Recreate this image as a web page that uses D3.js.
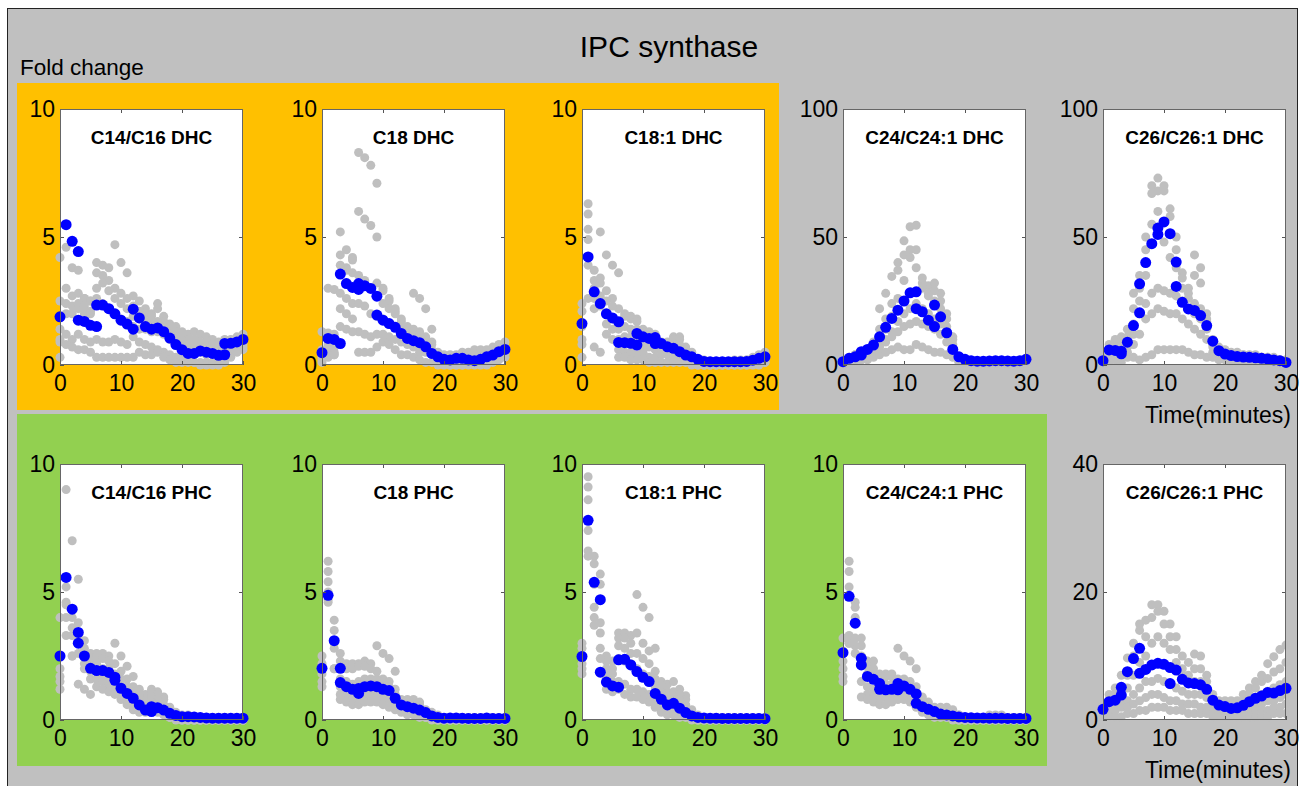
<!DOCTYPE html>
<html>
<head>
<meta charset="utf-8">
<script src="https://cdn.jsdelivr.net/npm/d3@7"></script>
<style>
body { margin: 0; background: #fff; }
svg { display: block; }
text { font-family: "Liberation Sans", Arial, sans-serif; }
</style>
</head>
<body>
<div id="chart"></div>
<script>
// time points (minutes)
const times = [0,1,2,3,4,5,6,7,8,9,10,11,12,13,14,15,16,17,18,19,20,21,22,23,24,25,26,27,28,29,30];
const xTicks = [0, 10, 20, 30];

const titles = ['C14/C16 DHC', 'C18 DHC', 'C18:1 DHC', 'C24/C24:1 DHC', 'C26/C26:1 DHC',
  'C14/C16 PHC', 'C18 PHC', 'C18:1 PHC', 'C24/C24:1 PHC', 'C26/C26:1 PHC'];
const yMaxes = [10, 10, 10, 100, 100, 10, 10, 10, 10, 40];
const yTicks = [[0,5,10],[0,5,10],[0,5,10],[0,50,100],[0,50,100],[0,5,10],[0,5,10],[0,5,10],[0,5,10],[0,20,40]];

// replicate curves (gray), one value per time point
const grayC14DHC = [
  [4.2,4.6,3.8,3.7,2.6,2.5,4.0,3.9,3.8,4.7,4.0,3.6,2.7,2.5,2.2,2.0,2.4,1.9,1.6,1.5,1.3,1.2,1.3,1.2,1.1,1.0,0.9,1.0,1.0,1.1,1.2],
  [2.5,3.0,2.7,2.8,2.6,2.5,3.6,3.5,3.3,3.0,2.8,2.6,2.3,2.1,2.0,1.9,2.2,1.7,1.5,1.3,1.2,1.0,1.0,0.9,0.9,0.8,0.8,0.9,0.9,1.0,1.0],
  [1.4,2.4,2.3,2.2,2.0,2.0,3.0,3.2,2.9,2.6,2.4,2.2,1.9,1.8,1.7,1.6,1.7,1.5,1.2,1.1,1.0,0.8,0.8,0.7,0.7,0.6,0.5,0.7,0.8,0.8,0.9],
  [1.0,2.0,2.0,2.4,2.3,2.1,2.6,2.4,2.2,2.0,1.8,1.7,1.5,1.4,1.4,1.3,1.3,1.2,1.0,0.9,0.8,0.6,0.6,0.5,0.4,0.4,0.4,0.6,0.7,0.7,0.8],
  [0.9,1.2,1.0,1.2,1.0,0.9,1.0,0.9,0.9,1.0,0.9,0.8,1.1,0.9,0.8,0.7,0.6,0.5,0.4,0.3,0.3,0.2,0.1,0.1,0.1,0.1,0.1,0.3,0.5,0.6,0.7],
  [0.3,0.8,0.7,0.6,0.6,0.5,0.3,0.3,0.3,0.3,0.3,0.3,0.3,0.5,0.4,0.4,0.5,0.3,0.2,0.1,0.1,0.1,0.1,0.0,0.0,0.0,0.0,0.1,0.3,0.5,0.6]
];
const grayC18DHC = [
  [0.1,0.5,0.4,5.2,4.5,4.2,8.3,8.1,7.8,7.1,3.0,2.5,2.0,1.8,1.4,2.8,2.6,2.2,1.4,0.5,0.4,0.4,0.4,0.5,0.5,0.6,0.6,0.6,0.7,0.8,0.9],
  [1.3,1.25,1.2,4.3,3.8,4.1,6.0,5.7,5.45,5.0,2.9,2.6,2.2,1.7,1.5,1.4,1.3,1.1,0.9,0.4,0.3,0.3,0.3,0.3,0.4,0.4,0.4,0.4,0.5,0.6,0.7],
  [0.6,3.0,2.95,3.9,3.7,3.6,3.5,3.3,3.0,3.2,2.4,2.2,2.1,1.6,1.4,1.3,1.2,1.0,0.8,0.3,0.2,0.2,0.2,0.2,0.2,0.3,0.3,0.3,0.4,0.5,0.6],
  [0.3,0.8,0.7,2.8,2.6,2.4,2.4,2.3,2.0,1.9,1.8,1.6,1.5,1.3,1.1,1.0,0.9,0.8,0.6,0.2,0.1,0.1,0.1,0.1,0.1,0.2,0.2,0.2,0.3,0.4,0.5],
  [0.4,0.5,0.5,2.2,2.0,1.8,1.3,1.2,1.1,1.2,1.2,1.1,1.0,0.9,0.8,0.7,0.5,0.5,0.4,0.1,0.1,0.0,0.0,0.0,0.1,0.1,0.1,0.1,0.2,0.3,0.4],
  [0.2,0.3,0.4,1.5,1.4,1.3,0.5,0.5,0.5,0.7,0.9,0.8,0.6,0.4,0.4,0.3,0.2,0.1,0.1,0.0,0.0,0.0,0.0,0.0,0.0,0.0,0.0,0.0,0.1,0.2,0.3]
];
const grayC181DHC = [
  [2.4,6.3,3.7,5.2,4.3,3.9,3.6,2.0,1.9,1.8,1.4,1.3,1.2,0.9,0.9,1.1,1.1,0.7,0.5,0.2,0.2,0.1,0.1,0.1,0.1,0.2,0.2,0.2,0.3,0.4,0.5],
  [2.1,5.9,3.3,3.4,2.9,2.6,2.2,1.9,1.8,1.7,1.3,1.2,1.0,0.8,0.8,1.0,1.0,0.6,0.4,0.2,0.1,0.1,0.1,0.1,0.1,0.1,0.1,0.2,0.2,0.3,0.4],
  [1.5,5.3,3.0,3.2,2.5,2.3,1.4,1.5,1.4,1.4,1.1,1.0,0.9,0.7,0.7,0.8,0.8,0.5,0.3,0.1,0.1,0.1,0.1,0.1,0.1,0.1,0.1,0.1,0.2,0.2,0.3],
  [1.0,4.9,2.6,2.7,2.0,1.8,1.0,1.1,1.1,1.0,0.8,0.7,0.6,0.6,0.6,0.6,0.5,0.4,0.2,0.1,0.0,0.0,0.0,0.0,0.0,0.1,0.1,0.1,0.1,0.2,0.2],
  [0.8,3.9,2.2,2.3,1.6,1.4,0.6,0.5,0.5,0.4,0.5,0.3,0.3,0.4,0.4,0.3,0.3,0.2,0.1,0.0,0.0,0.0,0.0,0.0,0.0,0.0,0.0,0.0,0.1,0.1,0.1],
  [0.3,2.6,0.7,0.5,1.2,1.0,0.3,0.3,0.2,0.2,0.2,0.1,0.1,0.1,0.1,0.1,0.1,0.1,0.0,0.0,0.0,0.0,0.0,0.0,0.0,0.0,0.0,0.0,0.0,0.0,0.1]
];
const grayC24DHC = [
  [0,2,4,5,6,9,22,28,34.6,40,48.5,54,54.6,32,31,32,28,20,11,3,2,1.5,1.5,1.5,1.5,1.5,1.5,1.5,1.5,1.5,2],
  [1,3,4,5,6,8,14,18,24,37,43,45,45,34,28,29,25,18,10,3,2,1.5,1.5,1.5,1.5,1.5,1.5,1.5,1.5,1.5,2],
  [1,2,3,4,5,7,11,14,19,26,33,42,38,30,27,25,22,15,8,2,1.5,1,1,1,1,1,1,1,1,1,1.5],
  [1,2,3,3,4,5,9,10,13,17,20,22,24,22,20,18,16,12,6,2,1,1,1,1,1,1,1,1,1,1,1],
  [0.5,1,2,2,3,4,7,9,11,13,15,16,17,16,15,14,12,9,5,1.5,1,1,1,1,1,1,1,1,1,1,1],
  [0.5,1,1.5,2,2,3,4,5,6,7,6,6,8,7,6,5,5,4,3,1,1,0.5,0.5,0.5,0.5,0.5,0.5,0.5,0.5,0.5,0.5]
];
const grayC26DHC = [
  [3,8,10,11,14,28,35,50,70,73,70,61,50,36,30,43,38,20,10,7,6,5,5,4,4,4,3,3,3,2,2],
  [2,6,8,9,11,22,30,45,67,68,68,58,45,34,28,35,32,18,9,6,5,4,4,4,3,3,3,3,2,2,2],
  [1,5,7,7,9,16,25,35,55,60,48,42,38,30,26,24,22,17,8,5,4,4,3,3,3,3,3,2,2,2,1],
  [1,4,5,5,7,12,20,24,28,30,29,28,27,25,22,20,18,14,7,4,4,3,3,3,2,2,2,2,2,1,1],
  [0.5,3,4,3,5,8,12,18,20,22,21,20,20,18,16,14,12,10,5,3,3,2,2,2,2,2,2,1,1,1,1],
  [0.5,1,2,1,3,3,2,3,4,6,6,6,6,6,5,4,4,3,3,2,2,1,1,1,1,1,1,1,1,1,0.5]
];
const grayC14PHC = [
  [4.0,9.0,7.0,5.5,3.1,2.6,2.6,2.6,2.5,3.0,2.5,2.1,1.7,1.2,1.0,1.2,1.1,0.9,0.5,0.3,0.2,0.2,0.1,0.1,0.1,0.1,0.1,0.1,0.1,0.1,0.1],
  [2.5,5.2,4.0,3.8,2.8,2.4,2.5,2.4,2.3,2.2,1.9,1.6,1.3,1.0,0.8,1.1,1.0,0.8,0.4,0.2,0.1,0.1,0.1,0.1,0.1,0.1,0.1,0.1,0.1,0.1,0.1],
  [2.0,4.6,3.6,3.3,2.5,2.2,2.2,2.0,2.0,1.8,1.6,1.3,1.0,0.8,0.6,0.9,0.8,0.6,0.3,0.2,0.1,0.1,0.1,0.0,0.0,0.0,0.0,0.0,0.0,0.0,0.0],
  [1.7,4.5,3.3,3.0,2.2,1.9,1.9,1.7,1.6,1.5,1.3,1.0,0.8,0.6,0.5,0.7,0.6,0.4,0.2,0.1,0.1,0.0,0.0,0.0,0.0,0.0,0.0,0.0,0.0,0.0,0.0],
  [1.5,4.0,2.5,2.6,2.0,1.6,1.6,1.5,1.3,1.2,1.0,0.8,0.6,0.5,0.4,0.5,0.5,0.3,0.1,0.1,0.0,0.0,0.0,0.0,0.0,0.0,0.0,0.0,0.0,0.0,0.0],
  [1.2,3.3,2.5,1.4,1.2,1.0,1.3,1.2,1.1,1.0,0.8,0.6,0.4,0.3,0.3,0.3,0.3,0.2,0.1,0.0,0.0,0.0,0.0,0.0,0.0,0.0,0.0,0.0,0.0,0.0,0.0]
];
const grayC18PHC = [
  [2.5,6.2,3.9,2.6,2.2,2.2,2.2,2.3,2.2,2.9,2.6,2.4,1.9,0.8,0.8,0.8,0.7,0.4,0.3,0.2,0.1,0.1,0.1,0.1,0.1,0.1,0.1,0.1,0.1,0.1,0.1],
  [2.2,5.8,3.5,2.3,2.0,2.0,2.1,2.1,2.0,1.9,1.6,1.5,1.2,0.7,0.6,0.6,0.6,0.3,0.2,0.1,0.1,0.1,0.1,0.1,0.1,0.1,0.0,0.0,0.0,0.0,0.0],
  [1.8,5.4,3.0,1.6,1.5,1.4,1.5,1.6,1.6,1.6,1.4,1.3,1.0,0.6,0.5,0.5,0.5,0.3,0.2,0.1,0.1,0.0,0.0,0.0,0.0,0.0,0.0,0.0,0.0,0.0,0.0],
  [1.3,5.0,2.0,1.3,1.2,1.1,1.2,1.2,1.3,1.2,1.1,1.0,0.8,0.5,0.4,0.4,0.4,0.2,0.1,0.1,0.0,0.0,0.0,0.0,0.0,0.0,0.0,0.0,0.0,0.0,0.0],
  [2.0,4.7,2.8,1.0,0.9,0.8,0.9,0.9,1.0,0.9,0.8,0.8,0.6,0.4,0.3,0.3,0.2,0.1,0.1,0.0,0.0,0.0,0.0,0.0,0.0,0.0,0.0,0.0,0.0,0.0,0.0],
  [1.5,4.6,2.0,0.8,0.7,0.6,0.6,0.7,0.7,0.7,0.6,0.5,0.4,0.3,0.2,0.2,0.1,0.1,0.0,0.0,0.0,0.0,0.0,0.0,0.0,0.0,0.0,0.0,0.0,0.0,0.0]
];
const grayC181PHC = [
  [3.0,9.5,6.4,5.7,2.5,2.3,3.4,3.4,3.3,4.9,4.4,4.0,2.8,1.5,1.4,1.5,1.2,0.95,0.4,0.2,0.1,0.1,0.1,0.1,0.1,0.1,0.1,0.1,0.1,0.1,0.1],
  [2.8,9.1,6.1,5.3,2.3,2.0,3.2,3.2,3.0,3.4,3.0,2.7,1.9,1.3,1.1,1.1,1.0,0.8,0.3,0.1,0.1,0.1,0.1,0.1,0.1,0.1,0.0,0.0,0.0,0.0,0.0],
  [2.5,8.6,5.3,3.8,2.0,1.8,2.9,2.8,2.6,2.6,2.4,2.2,1.6,1.1,0.9,0.9,0.8,0.6,0.2,0.1,0.1,0.0,0.0,0.0,0.0,0.0,0.0,0.0,0.0,0.0,0.0],
  [2.2,7.4,4.4,3.4,1.7,1.5,2.4,2.3,2.2,2.0,1.8,1.7,1.3,0.9,0.7,0.7,0.6,0.4,0.1,0.1,0.0,0.0,0.0,0.0,0.0,0.0,0.0,0.0,0.0,0.0,0.0],
  [2.0,6.6,4.0,2.8,1.5,1.3,1.5,1.4,1.2,1.2,1.1,1.0,0.8,0.6,0.4,0.4,0.3,0.2,0.1,0.0,0.0,0.0,0.0,0.0,0.0,0.0,0.0,0.0,0.0,0.0,0.0],
  [1.8,6.4,3.7,2.4,1.2,1.1,1.2,1.0,0.9,0.9,0.8,0.7,0.5,0.3,0.2,0.2,0.1,0.1,0.0,0.0,0.0,0.0,0.0,0.0,0.0,0.0,0.0,0.0,0.0,0.0,0.0]
];
const grayC24PHC = [
  [3.2,6.2,4.6,3.2,2.3,2.3,1.8,1.8,1.8,2.8,2.5,2.3,2.0,0.9,0.7,0.5,0.5,0.5,0.4,0.2,0.1,0.1,0.1,0.1,0.2,0.2,0.2,0.1,0.1,0.1,0.1],
  [2.7,5.8,4.4,2.9,2.1,2.0,1.7,1.7,1.7,1.6,1.6,1.5,1.3,0.8,0.6,0.4,0.4,0.4,0.3,0.2,0.1,0.1,0.1,0.1,0.1,0.1,0.1,0.1,0.1,0.1,0.1],
  [2.3,5.2,4.0,2.5,1.8,1.7,1.5,1.4,1.4,1.4,1.4,1.3,1.1,0.7,0.5,0.3,0.3,0.3,0.2,0.1,0.1,0.1,0.0,0.0,0.0,0.0,0.0,0.0,0.0,0.0,0.0],
  [1.7,3.3,3.2,2.2,1.3,1.2,1.1,1.1,1.1,1.1,1.1,1.0,0.8,0.5,0.4,0.3,0.2,0.2,0.1,0.1,0.0,0.0,0.0,0.0,0.0,0.0,0.0,0.0,0.0,0.0,0.0],
  [1.5,3.0,2.9,1.5,1.0,0.9,0.8,0.9,0.9,0.9,0.9,0.8,0.6,0.4,0.3,0.2,0.2,0.1,0.1,0.0,0.0,0.0,0.0,0.0,0.0,0.0,0.0,0.0,0.0,0.0,0.0],
  [2.0,3.0,2.6,0.9,0.8,0.7,0.6,0.6,0.7,0.8,0.8,0.7,0.5,0.3,0.2,0.1,0.1,0.1,0.0,0.0,0.0,0.0,0.0,0.0,0.0,0.0,0.0,0.0,0.0,0.0,0.0]
];
const grayC26PHC = [
  [2,4,5,7,9.7,12,15,15.6,18,18,17,15,13,10,9,10.3,10,7,4,3,3,3,3,4,5,6,7,8.8,9.9,11,11.7],
  [1.5,3,4,5,7,10,14,13,16,17,15,13,11,8,7,8,8,6,3.5,2.5,2.5,2.5,2.5,3,4,5,6,6.5,7.5,8,9],
  [1,2.5,3,4,5,7,9,10,12,13,12,11,9,7,6,6,6,5,3,2,2,2,2,2.5,3,3.5,4,4.5,5,5.5,6],
  [1,2,2.5,3,3,4,5,6,6,6.5,6,5.5,5,4.5,4,4,4,3.5,2.5,1.5,1.5,1.5,1.5,2,2,2.5,2.5,3,3,3.5,4],
  [0.5,1,1.5,2,2,2.5,3,3.5,4,4,3.5,3,3,2.5,2.5,2.5,2,2,1.5,1,1,1,1,1,1,1.5,1.5,1.5,2,2,2.5],
  [0.5,0.5,0.5,0.5,1,1,1.5,1.5,2,2,2,1.5,1.5,1.5,1,1,1,1,0.5,0.5,0.5,0.5,0.5,0.5,0.5,0.5,0.5,0.5,1,1,1]
];

// mean curves (blue), [time, fold change]
const blueC14DHC = [[0,1.88],[1,5.48],[2,4.83],[3,4.43],[3,1.75],[4,1.7],[5,1.55],[6,1.5],[6,2.34],[7,2.34],[8,2.2],[9,2.0],[10,1.75],[11,1.6],[12,1.4],[12,2.18],[13,1.84],[14,1.5],[15,1.4],[16,1.45],[17,1.3],[18,1.05],[19,0.8],[20,0.6],[21,0.45],[22,0.45],[23,0.55],[24,0.5],[25,0.45],[26,0.38],[27,0.4],[27,0.84],[28,0.85],[29,0.9],[30,1.0]];
const blueC18DHC = [[0,0.48],[1,1.04],[2,1.0],[3,0.84],[3,3.55],[4,3.18],[5,3.03],[6,3.18],[6,2.95],[7,3.1],[8,2.99],[9,2.69],[9,1.95],[10,1.75],[11,1.62],[12,1.47],[13,1.23],[14,1.04],[15,0.95],[16,0.87],[17,0.71],[18,0.45],[19,0.32],[20,0.22],[21,0.2],[22,0.26],[23,0.26],[24,0.2],[25,0.17],[26,0.22],[27,0.32],[28,0.39],[29,0.52],[30,0.61]];
const blueC181DHC = [[0,1.62],[1,4.22],[2,2.86],[3,2.4],[4,2.0],[5,1.84],[6,1.69],[6,0.88],[7,0.87],[8,0.85],[9,0.78],[9,1.23],[10,1.1],[11,1.04],[12,1.07],[12,0.84],[13,0.84],[14,0.71],[15,0.65],[16,0.52],[17,0.39],[18,0.32],[19,0.22],[20,0.14],[21,0.13],[22,0.13],[23,0.13],[24,0.13],[25,0.13],[26,0.13],[27,0.14],[28,0.19],[29,0.26],[30,0.32]];
const blueC24DHC = [[0,1.3],[1,2.6],[2,3.2],[3,3.9],[3,5.2],[4,6.1],[5,7.8],[6,11],[7,14.7],[8,18.2],[9,21.4],[10,25],[11,28.2],[12,28.6],[12,22],[13,20.8],[14,17.5],[15,15],[15,23.4],[16,18.8],[17,12.6],[18,6.1],[19,3.2],[20,2.2],[21,1.7],[22,1.5],[23,1.5],[24,1.6],[25,1.7],[26,1.7],[27,1.6],[28,1.5],[29,1.7],[30,2.2]];
const blueC26DHC = [[0,1.7],[1,5.9],[2,5.7],[3,5.4],[3,4.4],[4,8.9],[5,15.4],[6,20.4],[6,31.7],[7,40],[8,47.4],[9,51],[9,53.5],[10,55.9],[11,51.3],[12,40.2],[12,30.7],[13,24.5],[14,21.9],[15,21.3],[16,19.3],[17,15.4],[18,9.3],[19,5.6],[20,4.3],[21,3.7],[22,3.3],[23,3.1],[24,3.0],[25,2.8],[26,2.6],[27,2.3],[28,2.0],[29,1.7],[30,1.0]];
const blueC14PHC = [[0,2.5],[1,5.57],[2,4.33],[3,3.42],[3,3.0],[4,2.5],[5,2.02],[6,1.93],[7,1.93],[8,1.86],[9,1.67],[9,1.55],[10,1.24],[11,1.04],[12,0.85],[13,0.59],[14,0.39],[15,0.33],[15,0.52],[16,0.48],[17,0.39],[18,0.26],[19,0.18],[20,0.13],[21,0.13],[22,0.12],[23,0.1],[24,0.08],[25,0.07],[26,0.07],[27,0.07],[28,0.07],[29,0.07],[30,0.07]];
const blueC18PHC = [[0,2.02],[1,4.87],[2,3.1],[3,2.02],[3,1.46],[4,1.3],[5,1.2],[6,1.04],[6,1.23],[7,1.3],[8,1.33],[9,1.3],[10,1.2],[11,1.15],[12,0.85],[13,0.59],[14,0.52],[15,0.46],[16,0.39],[17,0.29],[18,0.16],[19,0.1],[20,0.07],[21,0.08],[22,0.08],[23,0.07],[24,0.06],[25,0.06],[26,0.06],[27,0.08],[28,0.06],[29,0.06],[30,0.06]];
const blueC181PHC = [[0,2.48],[1,7.8],[2,5.38],[3,4.7],[3,1.87],[4,1.48],[5,1.33],[6,1.28],[6,2.35],[7,2.37],[8,2.15],[9,1.89],[10,1.67],[11,1.5],[12,1.04],[13,0.81],[14,0.59],[15,0.65],[16,0.46],[17,0.29],[18,0.16],[19,0.1],[20,0.08],[21,0.07],[22,0.07],[23,0.06],[24,0.06],[25,0.06],[26,0.06],[27,0.06],[28,0.06],[29,0.06],[30,0.05]];
const blueC24PHC = [[0,2.63],[1,4.83],[2,3.78],[3,2.41],[3,2.15],[4,1.7],[5,1.59],[6,1.43],[6,1.2],[7,1.18],[8,1.2],[9,1.43],[9,1.18],[10,1.33],[11,1.2],[12,1.02],[12,0.65],[13,0.52],[14,0.42],[15,0.33],[16,0.23],[17,0.2],[18,0.16],[19,0.12],[20,0.1],[21,0.09],[22,0.08],[23,0.08],[24,0.07],[25,0.07],[26,0.07],[27,0.06],[28,0.06],[29,0.06],[30,0.06]];
const blueC26PHC = [[0,1.67],[1,2.86],[2,3.1],[3,3.9],[3,5.1],[4,7.55],[5,9.6],[6,11.2],[6,7.3],[7,7.9],[8,8.6],[9,8.85],[10,8.7],[11,8.2],[11,5.7],[12,7.8],[13,6.35],[14,5.8],[15,5.7],[16,5.5],[17,4.8],[18,3.1],[19,2.34],[20,2.1],[21,1.8],[22,1.9],[23,2.3],[24,2.86],[25,3.4],[26,3.75],[27,4.3],[28,4.2],[29,4.6],[30,4.95]];

const grays = [grayC14DHC, grayC18DHC, grayC181DHC, grayC24DHC, grayC26DHC,
  grayC14PHC, grayC18PHC, grayC181PHC, grayC24PHC, grayC26PHC];
const blues = [blueC14DHC, blueC18DHC, blueC181DHC, blueC24DHC, blueC26DHC,
  blueC14PHC, blueC18PHC, blueC181PHC, blueC24PHC, blueC26PHC];

// layout
const W = 1301, H = 786;
const colX = [60, 322, 582, 843, 1103];
const rowY = [109, 464];
const pw = 183, ph = 256;
const tickFont = 23;

const svg = d3.select('#chart').append('svg')
  .attr('width', W)
  .attr('height', H);

svg.append('rect')
  .attr('x', 0).attr('y', 0).attr('width', W).attr('height', H)
  .attr('fill', '#fff');
svg.append('rect')
  .attr('x', 7.5).attr('y', 8.5).attr('width', 1290).attr('height', 800)
  .attr('fill', '#c0c0c0')
  .attr('stroke', '#222');

// highlight boxes
svg.append('rect')
  .attr('x', 17).attr('y', 83).attr('width', 762).attr('height', 327)
  .attr('fill', '#ffc000');
svg.append('rect')
  .attr('x', 17).attr('y', 414).attr('width', 1030).attr('height', 352)
  .attr('fill', '#92d050');

svg.append('text')
  .attr('x', 669).attr('y', 57)
  .attr('text-anchor', 'middle')
  .attr('font-size', 30)
  .text('IPC synthase');

svg.append('text')
  .attr('x', 20).attr('y', 75)
  .attr('font-size', 22.5)
  .text('Fold change');

titles.forEach((title, i) => {
  const row = Math.floor(i / 5), col = i % 5;
  const g = svg.append('g')
    .attr('transform', `translate(${colX[col]},${rowY[row]})`);

  const x = d3.scaleLinear().domain([0, 30]).range([0, pw]);
  const y = d3.scaleLinear().domain([0, yMaxes[i]]).range([ph, 0]);

  g.append('rect')
    .attr('width', pw).attr('height', ph)
    .attr('fill', '#fff');

  // gray replicate points
  grays[i].forEach(series => {
    g.selectAll(null)
      .data(series)
      .enter().append('circle')
      .attr('cx', (d, j) => x(times[j]))
      .attr('cy', d => y(d))
      .attr('r', 4.5)
      .attr('fill', '#bfbfbf');
  });

  // mean points
  g.selectAll('.mean')
    .data(blues[i])
    .enter().append('circle')
    .attr('class', 'mean')
    .attr('cx', d => x(d[0]))
    .attr('cy', d => y(d[1]))
    .attr('r', 5.5)
    .attr('fill', '#0000ff');

  // axes with inward ticks
  const inner = [yTicks[i][1]];
  const axL = g.append('g')
    .call(d3.axisLeft(y).tickValues(yTicks[i]).tickSizeInner(-4).tickSizeOuter(0).tickPadding(5));
  const axB = g.append('g')
    .attr('transform', `translate(0,${ph})`)
    .call(d3.axisBottom(x).tickValues(xTicks).tickSizeInner(-4).tickSizeOuter(0).tickPadding(10));
  g.append('g')
    .attr('transform', `translate(${pw},0)`)
    .call(d3.axisRight(y).tickValues(inner).tickSizeInner(-4).tickSizeOuter(0).tickFormat(''));
  g.append('g')
    .call(d3.axisTop(x).tickValues([10, 20]).tickSizeInner(-4).tickSizeOuter(0).tickFormat(''));

  g.selectAll('.domain').remove();
  g.selectAll('.tick line').attr('stroke', '#555');
  [axL, axB].forEach(a => a.selectAll('text')
    .attr('font-size', tickFont)
    .attr('font-family', '"Liberation Sans", Arial, sans-serif')
    .attr('fill', '#000'));

  g.append('rect')
    .attr('x', 0.5).attr('y', 0.5)
    .attr('width', pw - 1).attr('height', ph - 1)
    .attr('fill', 'none')
    .attr('stroke', '#666');

  g.append('text')
    .attr('x', pw / 2).attr('y', 35)
    .attr('text-anchor', 'middle')
    .attr('font-size', 19)
    .attr('font-weight', 'bold')
    .text(title);

  if (col === 4) {
    g.append('text')
      .attr('x', pw + 5).attr('y', ph + 58)
      .attr('text-anchor', 'end')
      .attr('font-size', 23)
      .text('Time(minutes)');
  }
});
</script>
</body>
</html>
